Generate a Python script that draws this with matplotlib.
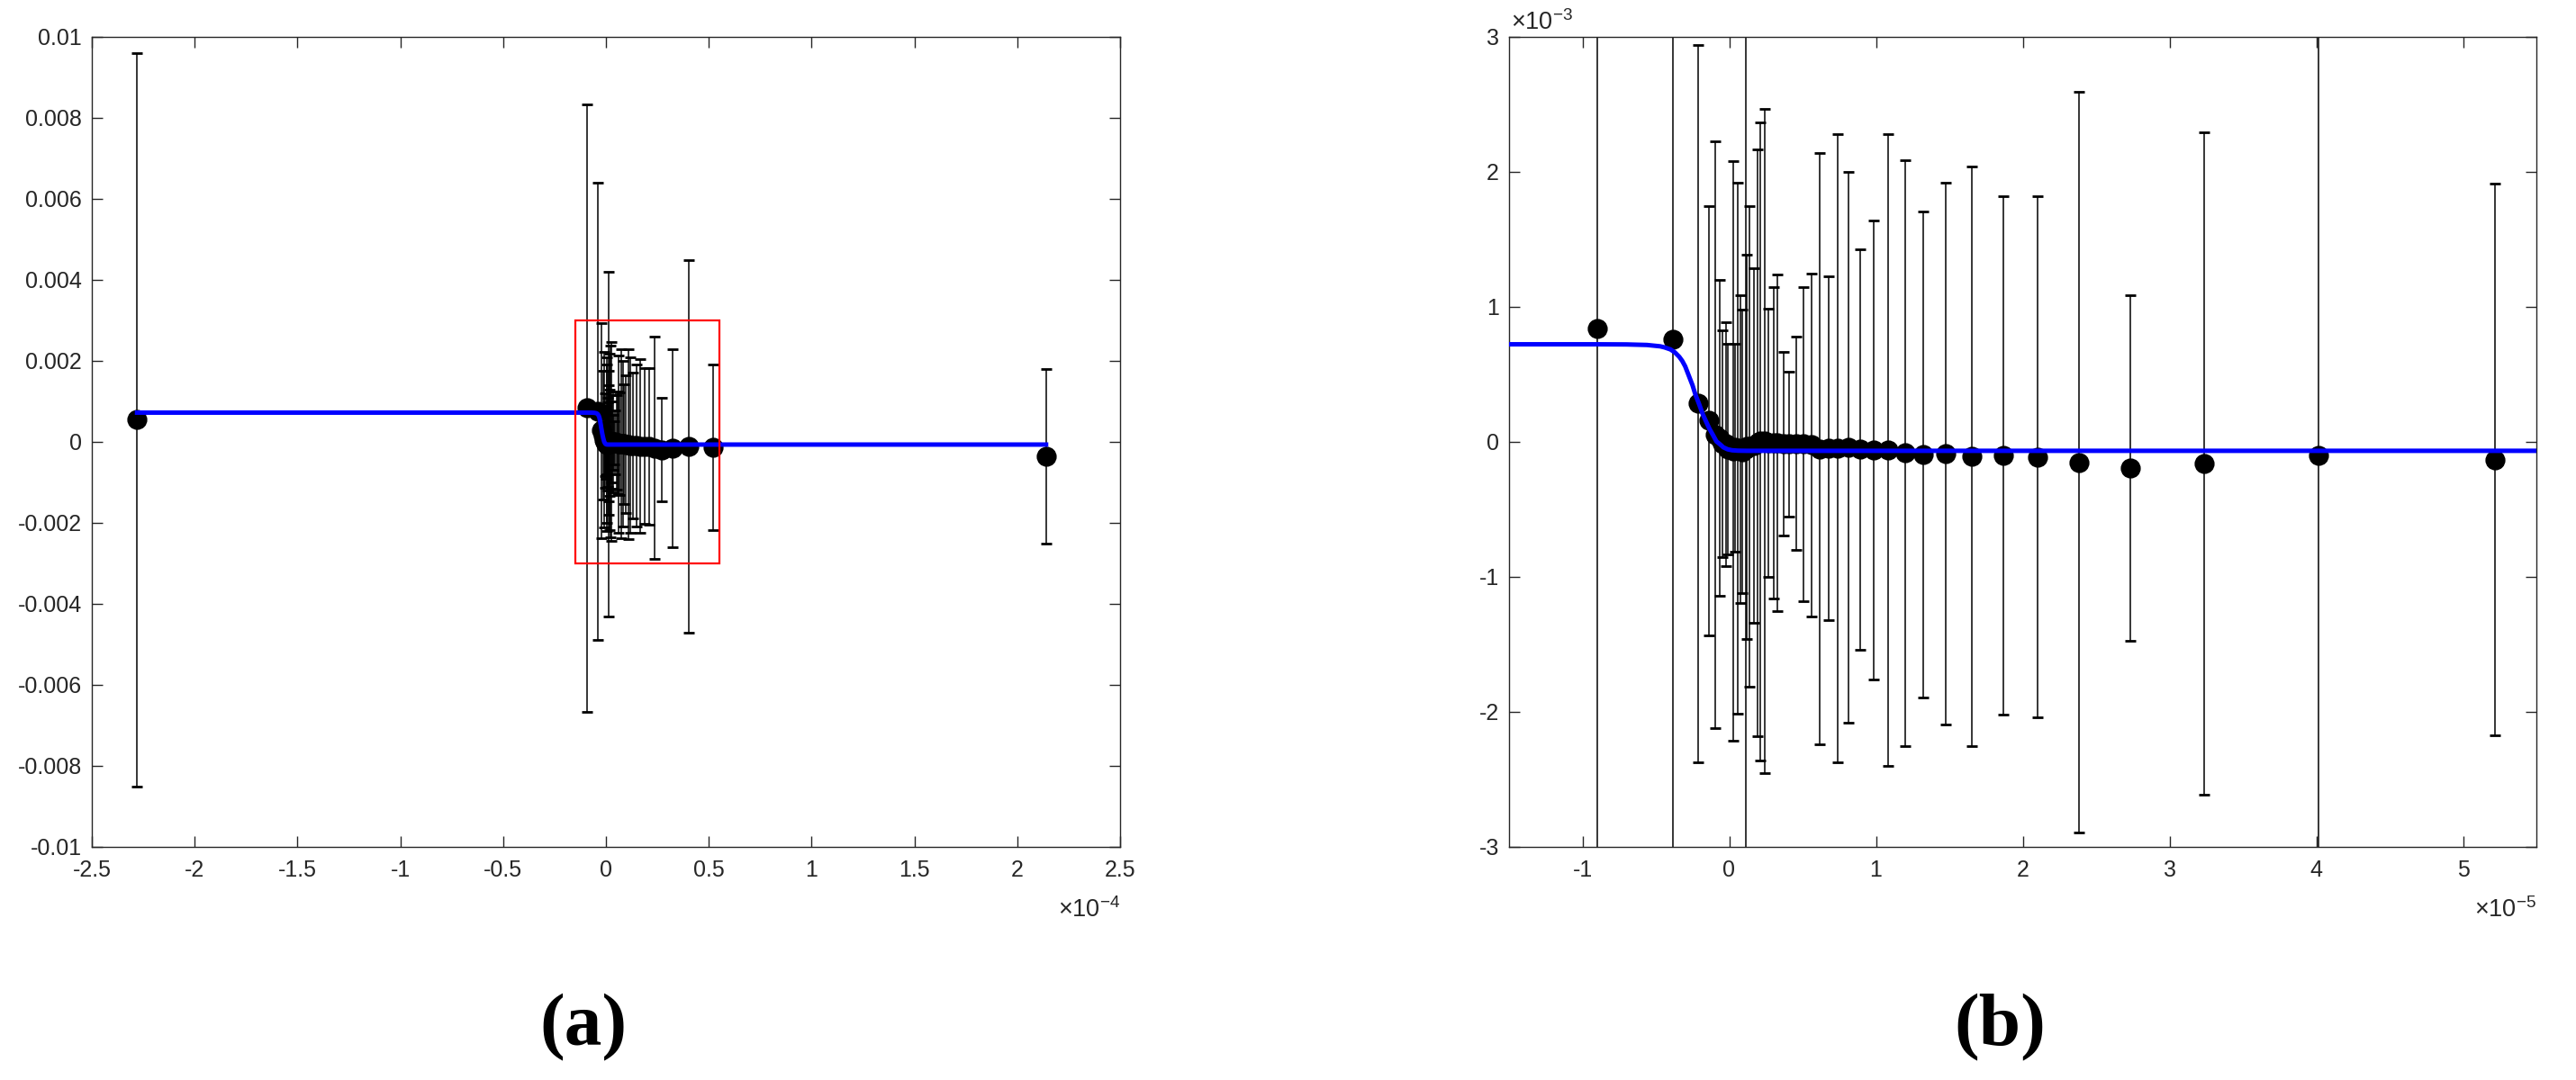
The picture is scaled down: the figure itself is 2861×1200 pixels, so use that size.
"""Two-panel errorbar chart: full range (a) and zoomed region (b)."""

import numpy as np
import matplotlib
matplotlib.use('Agg')
import matplotlib.pyplot as plt
from matplotlib.patches import Rectangle

plt.rcParams['font.family'] = ['Liberation Sans', 'DejaVu Sans']
plt.rcParams['mathtext.fontset'] = 'custom'
plt.rcParams['mathtext.rm'] = 'Liberation Sans'
plt.rcParams['mathtext.default'] = 'regular'
plt.rcParams['axes.unicode_minus'] = False

# DATA (x in units of 1e-5, y and error in units of 1e-3)
x_e5 = [-22.8, -0.90, -0.383, -0.211, -0.138, -0.094, -0.063, -0.045, -0.021,
        -0.008, 0.028, 0.042, 0.059, 0.075, 0.089, 0.113, 0.12, 0.141, 0.171,
        0.192, 0.214, 0.242, 0.265, 0.303, 0.331, 0.371, 0.411, 0.458, 0.507,
        0.561, 0.615, 0.676, 0.742, 0.815, 0.894, 0.984, 1.085, 1.197, 1.322,
        1.473, 1.654, 1.867, 2.10, 2.383, 2.734, 3.239, 4.016, 5.218, 21.4]
y_e3 = [0.55, 0.84, 0.76, 0.285, 0.16, 0.055, 0.03, -0.01, -0.015,
        -0.05, -0.065, -0.04, -0.045, -0.05, -0.07, -0.05, -0.035, -0.03, -0.025,
        -0.005, 0.005, 0.01, -0.005, -0.005, -0.005, -0.01, -0.015, -0.01, -0.015,
        -0.02, -0.05, -0.045, -0.045, -0.04, -0.055, -0.06, -0.06, -0.08, -0.09,
        -0.085, -0.105, -0.10, -0.11, -0.15, -0.19, -0.16, -0.10, -0.13, -0.35]
err_e3 = [9.05, 7.5, 5.65, 2.655, 1.59, 2.175, 1.17, 0.84, 0.905,
          0.78, 2.145, 0.77, 1.965, 1.14, 1.05, 4.25, 1.425, 1.78, 1.315,
          2.175, 2.365, 2.46, 0.995, 1.155, 1.245, 0.68, 0.535, 0.79, 1.165,
          1.27, 2.19, 1.275, 2.325, 2.04, 1.485, 1.70, 2.34, 2.17, 1.80,
          2.005, 2.145, 1.92, 1.93, 2.74, 1.28, 2.45, 4.6, 2.04, 2.15]

# fitted curve
fit_x_e5 = [-22.8, -1.5, -0.9, -0.7, -0.56, -0.47, -0.44, -0.40, -0.37, -0.34,
            -0.32, -0.30, -0.275, -0.25, -0.23, -0.205, -0.18, -0.155, -0.135,
            -0.11, -0.087, -0.06, -0.04, -0.01, 0.02, 0.06, 0.12, 0.3, 1.0,
            5.5, 21.4]
fit_y_e3 = [0.723, 0.723, 0.723, 0.722, 0.718, 0.708, 0.700, 0.685, 0.663, 0.630,
            0.600, 0.560, 0.490, 0.420, 0.350, 0.280, 0.205, 0.145, 0.098,
            0.050, 0.004, -0.020, -0.040, -0.055, -0.062, -0.065, -0.066, -0.066, -0.066,
            -0.066, -0.066]

# axis ranges and ticks
a_xlim = [-2.5e-4, 2.5e-4]
a_ylim = [-0.01, 0.01]
a_xticks = [-2.5, -2, -1.5, -1, -0.5, 0, 0.5, 1, 1.5, 2, 2.5]
a_xlabels = ['-2.5', '-2', '-1.5', '-1', '-0.5', '0', '0.5', '1', '1.5', '2', '2.5']
a_yticks = [-0.01, -0.008, -0.006, -0.004, -0.002, 0, 0.002, 0.004, 0.006, 0.008, 0.01]
a_ylabels = ['-0.01', '-0.008', '-0.006', '-0.004', '-0.002', '0',
             '0.002', '0.004', '0.006', '0.008', '0.01']

b_xlim = [-1.5e-5, 5.5e-5]
b_ylim = [-3e-3, 3e-3]
b_xticks = [-1, 0, 1, 2, 3, 4, 5]
b_yticks = [-3, -2, -1, 0, 1, 2, 3]

x = np.array(x_e5) * 1e-5
y = np.array(y_e3) * 1e-3
err = np.array(err_e3) * 1e-3
fit_x = np.array(fit_x_e5) * 1e-5
fit_y = np.array(fit_y_e3) * 1e-3

AX_COLOR = '#262626'

fig = plt.figure(figsize=(28.61, 12), dpi=100)
ax_a = fig.add_axes([102 / 2861, 1 - 941 / 1200, 1142 / 2861, 900 / 1200])
ax_b = fig.add_axes([1676 / 2861, 1 - 941 / 1200, 1141 / 2861, 900 / 1200])


def draw_panel(ax):
    ax.errorbar(x, y, yerr=err, fmt='o', color='k', ecolor='k', elinewidth=1.1,
                capsize=4.3, capthick=1.1, markersize=14, markeredgewidth=2,
                markerfacecolor='k', markeredgecolor='k', zorder=2)
    ax.plot(fit_x, fit_y, color=(0, 0, 1), linewidth=3.6, zorder=3)
    ax.tick_params(direction='in', length=8.3, width=1, top=True, right=True,
                   color=AX_COLOR, labelcolor=AX_COLOR, labelsize=18)
    ax.tick_params(axis='x', pad=10)
    ax.tick_params(axis='y', pad=8)
    for sp in ax.spines.values():
        sp.set_color(AX_COLOR)
        sp.set_linewidth(1)


# (a) full range
draw_panel(ax_a)
ax_a.set_xlim(a_xlim)
ax_a.set_ylim(a_ylim)
ax_a.set_xticks(np.array(a_xticks) * 1e-4)
ax_a.set_xticklabels(a_xlabels)
ax_a.set_yticks(a_yticks)
ax_a.set_yticklabels(a_ylabels)
ax_a.text(1.0, -0.0867, r'$\times10^{-4}$', transform=ax_a.transAxes,
          ha='right', va='baseline', fontsize=19.5, color=AX_COLOR)
# red box showing the zoomed region of (b)
ax_a.add_patch(Rectangle((b_xlim[0], b_ylim[0]), b_xlim[1] - b_xlim[0],
                         b_ylim[1] - b_ylim[0], fill=False, edgecolor=(1, 0, 0),
                         linewidth=1.6, zorder=4))

# (b) zoomed region
draw_panel(ax_b)
ax_b.set_xlim(b_xlim)
ax_b.set_ylim(b_ylim)
ax_b.set_xticks(np.array(b_xticks) * 1e-5)
ax_b.set_xticklabels([str(v) for v in b_xticks])
ax_b.set_yticks(np.array(b_yticks) * 1e-3)
ax_b.set_yticklabels([str(v) for v in b_yticks])
ax_b.text(1.0, -0.0867, r'$\times10^{-5}$', transform=ax_b.transAxes,
          ha='right', va='baseline', fontsize=19.5, color=AX_COLOR)
ax_b.text(0.002, 1.009, r'$\times10^{-3}$', transform=ax_b.transAxes,
          ha='left', va='baseline', fontsize=19.5, color=AX_COLOR)

# panel labels
fig.text(647.5 / 2861, 1 - 1142 / 1200, '(a)', ha='center', va='center',
         fontsize=60, fontweight='bold', family=['Liberation Serif', 'DejaVu Serif'])
fig.text(2221 / 2861, 1 - 1142 / 1200, '(b)', ha='center', va='center',
         fontsize=60, fontweight='bold', family=['Liberation Serif', 'DejaVu Serif'])

fig.savefig('out.png', dpi=100, facecolor='white')
